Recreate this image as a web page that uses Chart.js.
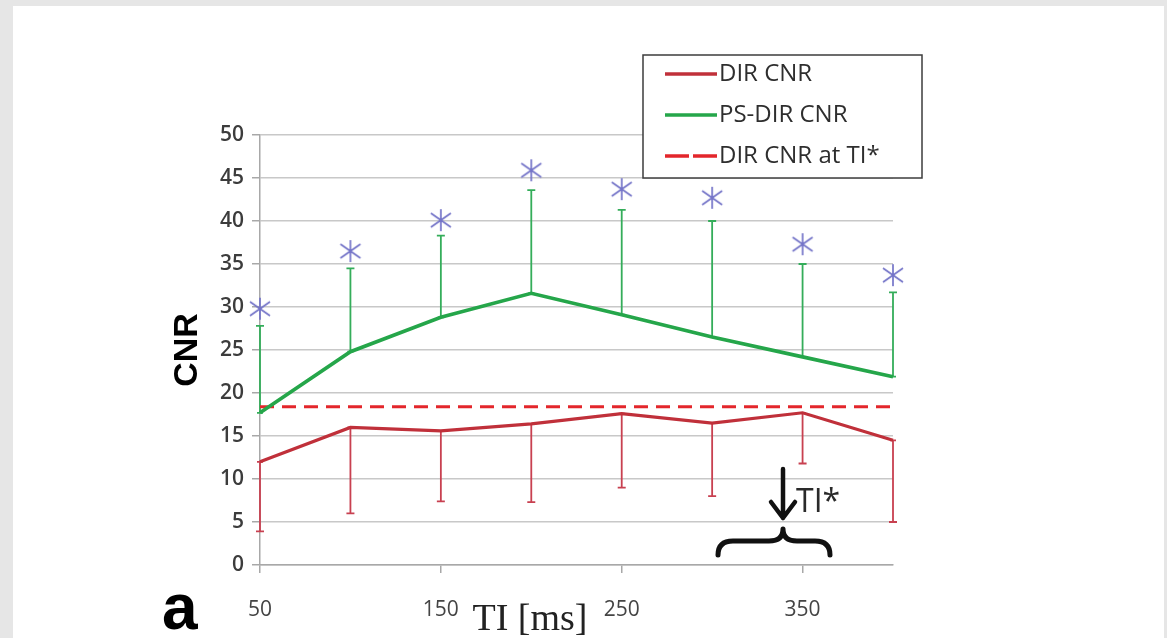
<!DOCTYPE html>
<html>
<head>
<meta charset="utf-8">
<script src="https://cdn.jsdelivr.net/npm/chart.js@4.4.0/dist/chart.umd.min.js"></script>
<style>
  html, body { margin: 0; padding: 0; background: #e6e6e6; overflow: hidden; }
  #sheet { position: absolute; left: 13px; top: 6px; width: 1151px; height: 632px; background: #fff; }
  #wrap { position: absolute; left: 0; top: 0; width: 1167px; height: 638px; }
</style>
</head>
<body>
<div id="sheet"></div>
<div id="wrap"><canvas id="cnrChart" width="1167" height="638"></canvas></div>
<script>
// inversion time (ms)
var tiLabels = ['50', '100', '150', '200', '250', '300', '350', '400'];

// mean CNR and standard deviation
var dirCnr   = [12.0, 16.0, 15.6, 16.4, 17.6, 16.5, 17.7, 14.5];
var dirSd    = [8.1, 10.0, 8.2, 9.1, 8.6, 8.5, 5.9, 9.5];
var psDirCnr = [17.7, 24.8, 28.8, 31.6, 29.1, 26.5, 24.2, 21.9];
var psDirSd  = [10.1, 9.7, 9.5, 12.0, 12.2, 13.5, 10.8, 9.8];

// DIR CNR at the optimal TI*
var dirAtTiStar = 18.4;

// significance markers
var sigMarks = [29.8, 36.5, 40.1, 45.9, 43.7, 42.7, 37.3, 33.7];

var RED = '#c0303a', GREEN = '#25a64a', RED_DASH = '#e3262b';

// asterisk used for significance
var star = document.createElement('canvas');
star.width = 24; star.height = 24;
(function () {
    var c = star.getContext('2d');
    c.strokeStyle = '#7474c8';
    c.lineWidth = 1.7;
    c.beginPath();
    c.moveTo(12, 1); c.lineTo(12, 23);
    c.moveTo(2, 5); c.lineTo(22, 19);
    c.moveTo(2, 19); c.lineTo(22, 5);
    c.stroke();
})();

var errorBars = {
    id: 'errorBars',
    beforeDatasetsDraw: function (chart) {
        var ctx = chart.ctx, x = chart.scales.x, y = chart.scales.y;
        function bar(i, from, to, color) {
            var px = x.getPixelForValue(i);
            var y1 = y.getPixelForValue(from), y2 = y.getPixelForValue(to);
            ctx.strokeStyle = color;
            ctx.lineWidth = 1.8;
            ctx.beginPath();
            ctx.moveTo(px, y1); ctx.lineTo(px, y2);
            ctx.moveTo(px - 4, y2); ctx.lineTo(px + 4, y2);
            ctx.moveTo(px - 3, y1); ctx.lineTo(px + 3, y1);
            ctx.stroke();
        }
        ctx.save();
        for (var i = 0; i < tiLabels.length; i++) {
            bar(i, psDirCnr[i], psDirCnr[i] + psDirSd[i], '#34ad5a');
            bar(i, dirCnr[i], dirCnr[i] - dirSd[i], '#c84050');
        }
        ctx.restore();
    }
};

var extras = {
    id: 'extras',
    afterDraw: function (chart) {
        var ctx = chart.ctx;
        ctx.save();

        // legend box
        ctx.fillStyle = '#fff';
        ctx.fillRect(643, 55, 279, 123);
        ctx.strokeStyle = '#3c3c3c';
        ctx.lineWidth = 1.5;
        ctx.strokeRect(643, 55, 279, 123);
        var rows = [
            { text: chart.data.datasets[0].label, color: RED, dash: [] },
            { text: chart.data.datasets[1].label, color: GREEN, dash: [] },
            { text: chart.data.datasets[2].label, color: RED_DASH, dash: [24, 4] }
        ];
        ctx.font = '24px "Open Sans"';
        ctx.textBaseline = 'middle';
        rows.forEach(function (r, k) {
            var ry = 74 + k * 41;
            ctx.strokeStyle = r.color;
            ctx.lineWidth = 3.5;
            ctx.setLineDash(r.dash);
            ctx.beginPath();
            ctx.moveTo(665, ry); ctx.lineTo(717, ry);
            ctx.stroke();
            ctx.setLineDash([]);
            ctx.fillStyle = '#2e2e2e';
            ctx.fillText(r.text, 719, ry);
        });

        // TI* arrow and brace
        ctx.strokeStyle = '#111';
        ctx.lineCap = 'round';
        ctx.lineJoin = 'round';
        ctx.lineWidth = 4.5;
        ctx.beginPath();
        ctx.moveTo(783, 469); ctx.lineTo(783, 518);
        ctx.moveTo(771, 502); ctx.lineTo(783, 518); ctx.lineTo(795, 502);
        ctx.stroke();

        ctx.lineWidth = 5;
        ctx.beginPath();
        ctx.moveTo(718, 555);
        ctx.quadraticCurveTo(718, 541, 733, 541);
        ctx.lineTo(769, 541);
        ctx.quadraticCurveTo(783, 541, 783, 529);
        ctx.quadraticCurveTo(783, 541, 797, 541);
        ctx.lineTo(815, 541);
        ctx.quadraticCurveTo(830, 541, 830, 555);
        ctx.stroke();

        ctx.fillStyle = '#2a2a2a';
        ctx.textBaseline = 'alphabetic';
        ctx.font = '32px "Open Sans"';
        ctx.fillText('TI*', 796, 512);

        // axis title and panel letter
        ctx.fillStyle = '#222';
        ctx.font = '38px "Liberation Serif"';
        ctx.textAlign = 'center';
        ctx.fillText('TI [ms]', 530, 630);

        ctx.fillStyle = '#000';
        ctx.font = 'bold 64px "Liberation Sans"';
        ctx.textAlign = 'left';
        ctx.fillText('a', 162, 629);

        ctx.restore();
    }
};

new Chart(document.getElementById('cnrChart').getContext('2d'), {
    type: 'line',
    data: {
        labels: tiLabels,
        datasets: [
            {
                label: 'DIR CNR',
                data: dirCnr,
                borderColor: RED,
                borderWidth: 3.2,
                pointRadius: 0,
                tension: 0
            },
            {
                label: 'PS-DIR CNR',
                data: psDirCnr,
                borderColor: GREEN,
                borderWidth: 3.6,
                pointRadius: 0,
                tension: 0
            },
            {
                label: 'DIR CNR at TI*',
                data: tiLabels.map(function () { return dirAtTiStar; }),
                borderColor: RED_DASH,
                borderWidth: 3,
                borderDash: [14, 8],
                pointRadius: 0
            },
            {
                label: 'significance',
                data: sigMarks,
                showLine: false,
                pointStyle: star,
                pointRadius: 12
            }
        ]
    },
    options: {
        responsive: false,
        animation: false,
        layout: { padding: { left: 163, top: 135, right: 274, bottom: 0 } },
        plugins: {
            legend: { display: false },
            tooltip: { enabled: false }
        },
        scales: {
            x: {
                offset: false,
                afterFit: function (s) { s.height = 73; },
                grid: { drawOnChartArea: false, tickLength: 8, color: '#a8a8a8', lineWidth: 1.5 },
                border: { color: '#a8a8a8', width: 1.5 },
                ticks: {
                    autoSkip: false,
                    maxRotation: 0,
                    padding: 24,
                    color: '#444',
                    font: { family: 'Open Sans', size: 21 },
                    callback: function (v, i) { return i % 2 === 0 ? tiLabels[i] : null; }
                }
            },
            y: {
                min: 0,
                max: 50,
                afterFit: function (s) { s.width = 97; },
                grid: { color: '#c8c8c8', lineWidth: 1.5, tickLength: 8, tickColor: '#a8a8a8' },
                border: { color: '#a8a8a8', width: 1.5 },
                title: {
                    display: true,
                    text: 'CNR',
                    color: '#000',
                    font: { family: 'Liberation Sans', size: 34, weight: 'bold' }
                },
                ticks: {
                    stepSize: 5,
                    padding: 8,
                    color: '#3c3c3c',
                    font: { family: 'Open Sans', size: 21, weight: '600' }
                }
            }
        }
    },
    plugins: [errorBars, extras]
});
</script>
</body>
</html>
